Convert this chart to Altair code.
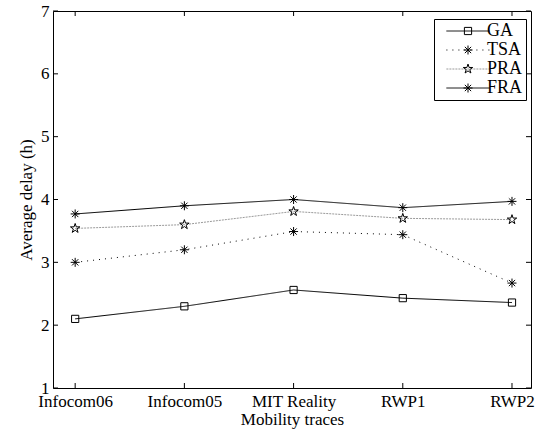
import altair as alt
import pandas as pd

# ---- data ----
traces = ["Infocom06", "Infocom05", "MIT Reality", "RWP1", "RWP2"]
series_names = ["GA", "TSA", "PRA", "FRA"]
ga = [2.10, 2.30, 2.56, 2.43, 2.36]
tsa = [3.00, 3.20, 3.49, 3.44, 2.67]
pra = [3.54, 3.60, 3.81, 3.70, 3.68]
fra = [3.77, 3.90, 4.00, 3.87, 3.97]
y_ticks = [1, 2, 3, 4, 5, 6, 7]

rows = []
for name, vals in zip(series_names, [ga, tsa, pra, fra]):
    for i, v in enumerate(vals):
        rows.append({"series": name, "idx": i, "delay": v})
df = pd.DataFrame(rows)
df_xt = pd.DataFrame({"idx": list(range(len(traces)))})
df_yt = pd.DataFrame({"delay": y_ticks})

# ---- styling ----
FONT = "Liberation Serif, Times New Roman, serif"
W, H = 478, 377
X_DOMAIN = [-0.203, 4.174]
Y_DOMAIN = [1, 7]
TICK_PX = 5
TX = TICK_PX * (X_DOMAIN[1] - X_DOMAIN[0]) / W
TY = TICK_PX * (Y_DOMAIN[1] - Y_DOMAIN[0]) / H

x_scale = alt.Scale(domain=X_DOMAIN, nice=False, zero=False)
y_scale = alt.Scale(domain=Y_DOMAIN, nice=False, zero=False)

label_expr = "[" + ",".join("'" + t + "'" for t in traces) + "][datum.value]"

x_axis = alt.Axis(values=list(range(len(traces))), labelExpr=label_expr, ticks=False,
                  domain=False, grid=False, title="Mobility traces", labelFont=FONT,
                  labelFontSize=17, titleFont=FONT, titleFontSize=17, titleFontWeight="normal",
                  labelColor="black", titleColor="black", labelPadding=5, titlePadding=2,
                  labelFlush=False, labelOverlap=False)
y_axis = alt.Axis(values=y_ticks, ticks=False, domain=False, grid=False,
                  title="Average delay (h)", labelFont=FONT, labelFontSize=17,
                  titleFont=FONT, titleFontSize=17, titleFontWeight="normal",
                  labelColor="black", titleColor="black", labelPadding=4, titlePadding=5,
                  labelFlush=False, labelOverlap=False, format="d")

line_colors = ["black", "black", "#9a9a9a", "black"]
dashes = [[1, 0], [1, 5], [2, 1], [1, 0]]

SQUARE = "M-0.8,-0.8L0.8,-0.8L0.8,0.8L-0.8,0.8Z"
ASTER = "M-1,0L1,0M0,-1L0,1M-0.7,-0.7L0.7,0.7M-0.7,0.7L0.7,-0.7"
STAR = ("M0,-1.1L0.248,-0.34L1.046,-0.34L0.399,0.13L0.647,0.89L0,0.42"
        "L-0.647,0.89L-0.399,0.13L-1.046,-0.34L-0.248,-0.34Z")
marker_paths = [SQUARE, ASTER, STAR, ASTER]
marker_keys = [s + "_m" for s in series_names]

LEG_X, LEG_Y = 381, 8
common_leg = dict(orient="none", legendX=LEG_X, legendY=LEG_Y, title=None,
                  labelFont=FONT, labelFontSize=18, labelColor="black",
                  symbolSize=81, symbolOffset=22, labelOffset=10,
                  padding=3, rowPadding=1, labelLimit=200)

line_legend = alt.Legend(symbolType="M-4.8,0L4.8,0", symbolStrokeWidth=1,
                         strokeColor="black", **common_leg)
marker_legend = alt.Legend(labelExpr="' '", symbolStrokeColor="black",
                           symbolStrokeWidth=1, symbolFillColor="transparent",
                           **common_leg)


def X(field):
    return alt.X(field, scale=x_scale, axis=x_axis)


def Y(field):
    return alt.Y(field, scale=y_scale, axis=y_axis)


lines = alt.Chart(df).mark_line(strokeWidth=1).encode(
    x=X("idx:Q"),
    y=Y("delay:Q"),
    stroke=alt.Stroke("series:N", scale=alt.Scale(domain=series_names, range=line_colors),
                      legend=line_legend),
    strokeDash=alt.StrokeDash("series:N", scale=alt.Scale(domain=series_names, range=dashes),
                              legend=line_legend),
)

points = alt.Chart(df).transform_calculate(marker="datum.series + '_m'").mark_point(
    filled=False, stroke="black", strokeWidth=1, size=81, opacity=1
).encode(
    x=X("idx:Q"),
    y=Y("delay:Q"),
    shape=alt.Shape("marker:N", scale=alt.Scale(domain=marker_keys, range=marker_paths),
                    legend=marker_legend),
)

xt_bottom = alt.Chart(df_xt).transform_calculate(
    delay=str(Y_DOMAIN[0]), delay2=str(Y_DOMAIN[0] + TY)
).mark_rule(color="black", strokeWidth=1).encode(
    x=X("idx:Q"), y=Y("delay:Q"), y2="delay2:Q")
xt_top = alt.Chart(df_xt).transform_calculate(
    delay=str(Y_DOMAIN[1]), delay2=str(Y_DOMAIN[1] - TY)
).mark_rule(color="black", strokeWidth=1).encode(
    x=X("idx:Q"), y=Y("delay:Q"), y2="delay2:Q")
yt_left = alt.Chart(df_yt).transform_calculate(
    idx=str(X_DOMAIN[0]), idx2=str(X_DOMAIN[0] + TX)
).mark_rule(color="black", strokeWidth=1).encode(
    y=Y("delay:Q"), x=X("idx:Q"), x2="idx2:Q")
yt_right = alt.Chart(df_yt).transform_calculate(
    idx=str(X_DOMAIN[1]), idx2=str(X_DOMAIN[1] - TX)
).mark_rule(color="black", strokeWidth=1).encode(
    y=Y("delay:Q"), x=X("idx:Q"), x2="idx2:Q")

chart = alt.layer(lines, points, xt_bottom, xt_top, yt_left, yt_right).properties(
    width=W, height=H, autosize=alt.AutoSizeParams(type="none"),
    padding={"left": 53, "top": 11, "right": 11, "bottom": 42},
    background="white",
).configure_view(stroke="black", strokeWidth=1)

chart.save("out.html", embed_options={"renderer": "svg", "actions": False})
